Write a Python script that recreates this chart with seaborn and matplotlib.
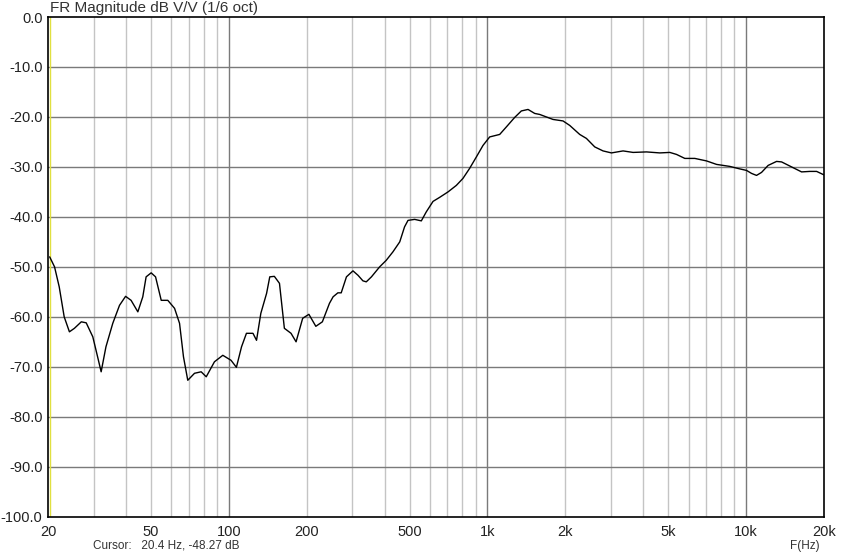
import matplotlib
matplotlib.use('Agg')
import matplotlib.pyplot as plt
import matplotlib.ticker as mticker
import seaborn as sns
import pandas as pd

# frequency response (Hz, dB)
FREQ_HZ = [20.3, 21.2, 22.1, 23.1, 24.2, 25.3, 26.9, 28.1, 29.8, 31.1,
           32.1, 33.5, 35.6, 37.8, 39.9, 41.9, 44.5, 46.5, 47.9, 50.1,
           52.1, 54.8, 58.1, 61.7, 64.5, 66.8, 69.4, 73.7, 78.2, 81.8,
           88.0, 94.8, 102, 107, 112, 117, 124, 128, 133, 140,
           144, 150, 157, 164, 174, 182, 193, 204, 217, 230,
           245, 253, 264, 272, 285, 302, 316, 330, 340, 356,
           383, 406, 431, 458, 478, 493, 523, 555, 580, 616,
           653, 704, 758, 804, 853, 906, 961, 1020, 1115, 1183,
           1274, 1352, 1435, 1523, 1592, 1792, 1959, 2080, 2273, 2413,
           2599, 2798, 3015, 3344, 3655, 4119, 4637, 5069, 5380, 5793,
           6332, 7028, 7685, 8649, 9454, 10035, 10493, 10970, 11470, 12164,
           13113, 13710, 14985, 16380, 17640, 18730, 20000]
MAG_DB = [-48.0, -50.0, -54.0, -60.0, -63.0, -62.3, -61.0, -61.2, -64.0, -68.0,
          -71.0, -66.0, -61.3, -57.7, -55.9, -56.7, -59.0, -56.0, -52.0, -51.2,
          -52.0, -56.7, -56.7, -58.3, -61.3, -68.0, -72.7, -71.3, -71.0, -72.0,
          -69.0, -67.7, -68.7, -70.1, -66.0, -63.3, -63.3, -64.7, -59.3, -55.3,
          -52.0, -51.9, -53.3, -62.3, -63.3, -65.0, -60.3, -59.5, -61.9, -61.0,
          -57.3, -56.0, -55.2, -55.2, -52.0, -50.8, -51.7, -52.8, -53.0, -52.0,
          -50.0, -48.7, -47.0, -45.0, -42.0, -40.7, -40.5, -40.8, -39.0, -36.9,
          -36.1, -35.0, -33.7, -32.3, -30.3, -28.0, -25.7, -24.0, -23.5, -22.0,
          -20.1, -18.8, -18.5, -19.3, -19.5, -20.5, -20.8, -21.7, -23.5, -24.3,
          -26.0, -26.8, -27.2, -26.8, -27.1, -27.0, -27.2, -27.1, -27.5, -28.3,
          -28.3, -28.8, -29.5, -29.9, -30.4, -30.7, -31.3, -31.7, -31.1, -29.7,
          -28.9, -29.0, -30.0, -31.0, -30.9, -30.9, -31.6]

X_TICKS = [20, 50, 100, 200, 500, 1000, 2000, 5000, 10000, 20000]
X_TICK_LABELS = ['20', '50', '100', '200', '500', '1k', '2k', '5k', '10k', '20k']
Y_TICKS = [0, -10, -20, -30, -40, -50, -60, -70, -80, -90, -100]

MINOR_FREQS = [30, 40, 50, 60, 70, 80, 90, 200, 300, 400, 500, 600, 700, 800, 900,
               2000, 3000, 4000, 5000, 6000, 7000, 8000, 9000]
MAJOR_FREQS = [100, 1000, 10000]
CURSOR_HZ = 20.4

sns.set_style('white')
plt.rcParams['font.family'] = ['Liberation Sans', 'DejaVu Sans']

df = pd.DataFrame({'freq': FREQ_HZ, 'mag': MAG_DB})

fig = plt.figure(figsize=(8.44, 5.52), dpi=100)
ax = fig.add_axes([48 / 844, 1 - 516.7 / 552, 776 / 844, 499.7 / 552])

ax.set_xscale('log')
ax.set_xlim(20, 20000)
ax.set_ylim(-100, 0)

# grid drawn by hand so minor/major lines get different greys
for f in MINOR_FREQS:
    ax.axvline(f, color='#c4c4c4', linewidth=1, zorder=1)
for f in MAJOR_FREQS:
    ax.axvline(f, color='#7a7a7a', linewidth=1, zorder=1)
for y in Y_TICKS[1:-1]:
    ax.axhline(y, color='#7a7a7a', linewidth=1, zorder=1)
ax.axvline(CURSOR_HZ, color='#e0e040', linewidth=1.0, zorder=2)

sns.lineplot(data=df, x='freq', y='mag', ax=ax, color='black',
             linewidth=1.0, zorder=3)

ax.xaxis.set_major_locator(mticker.FixedLocator(X_TICKS))
ax.xaxis.set_major_formatter(mticker.FixedFormatter(X_TICK_LABELS))
ax.xaxis.set_minor_locator(mticker.NullLocator())
ax.set_yticks(Y_TICKS)
ax.set_yticklabels([f'{v:.1f}' for v in Y_TICKS])
ax.tick_params(axis='both', length=0, labelsize=10.5, colors='#222222')
ax.tick_params(axis='x', pad=6)
ax.tick_params(axis='y', pad=4)
ax.set_xlabel('')
ax.set_ylabel('')

for sp in ax.spines.values():
    sp.set_color('black')
    sp.set_linewidth(1.2)

fig.text(50 / 844, 1 - 8 / 552, 'FR Magnitude dB V/V (1/6 oct)',
         fontsize=11, color='#333333', va='center', ha='left')
fig.text(93 / 844, 1 - 546 / 552, 'Cursor:   20.4 Hz, -48.27 dB',
         fontsize=8.5, color='#333333', va='center', ha='left')
fig.text(790 / 844, 1 - 546 / 552, 'F(Hz)',
         fontsize=8.5, color='#333333', va='center', ha='left')

fig.savefig('out.png', dpi=100)
